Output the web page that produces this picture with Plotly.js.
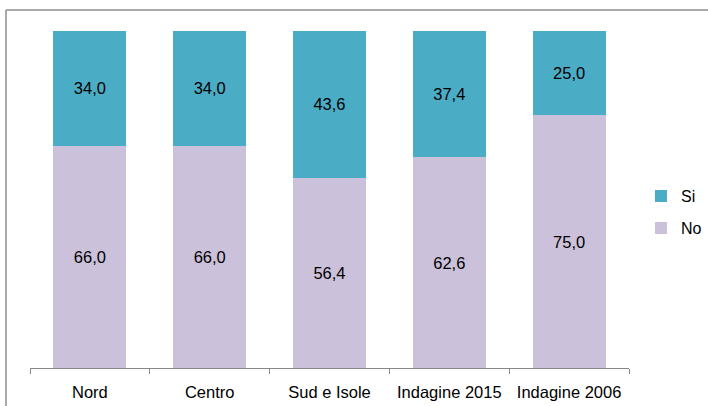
<!DOCTYPE html>
<html>
<head>
<meta charset="utf-8">
<script src="https://cdn.plot.ly/plotly-3.0.1.min.js"></script>
<style>body{margin:0;padding:0;background:#fff}#chart{width:708px;height:406px}</style>
</head>
<body>
<div id="chart"></div>
<script>
const categories = ["Nord", "Centro", "Sud e Isole", "Indagine 2015", "Indagine 2006"];
const noValues = [66.0, 66.0, 56.4, 62.6, 75.0];
const siValues = [34.0, 34.0, 43.6, 37.4, 25.0];
const seriesNames = ["No", "Si"];

const fmt = v => v.toFixed(1).replace('.', ',');
const FONT = "Liberation Sans, Arial, sans-serif";

const traces = [
  {
    type: 'bar', name: seriesNames[0], x: categories, y: noValues,
    marker: {color: '#CCC1DA'}, legend: 'legend2',
    text: noValues.map(fmt), textposition: 'inside', insidetextanchor: 'middle',
    textfont: {color: '#000', size: 16.5, family: FONT}, hoverinfo: 'none'
  },
  {
    type: 'bar', name: seriesNames[1], x: categories, y: siValues,
    marker: {color: '#4BACC6'}, legend: 'legend',
    text: siValues.map(fmt), textposition: 'inside', insidetextanchor: 'middle',
    textfont: {color: '#000', size: 16.5, family: FONT}, hoverinfo: 'none'
  }
];

const legendCommon = {xanchor: 'left', yanchor: 'middle', font: {size: 16, family: FONT},
                      itemwidth: 30, bgcolor: 'rgba(0,0,0,0)'};

const layout = {
  width: 708, height: 406,
  margin: {l: 30, r: 79, t: 31, b: 38, autoexpand: false},
  barmode: 'stack', bargap: 0.39,
  paper_bgcolor: '#fff', plot_bgcolor: '#fff',
  font: {family: FONT, size: 14, color: '#000'},
  showlegend: true,
  legend: Object.assign({x: 1.02, y: 0.510}, legendCommon),
  legend2: Object.assign({x: 1.02, y: 0.415}, legendCommon),
  xaxis: {
    showline: true, linecolor: '#888', linewidth: 1,
    ticks: 'outside', ticklen: 5, tickcolor: '#888', tickson: 'boundaries',
    ticklabelstandoff: 9,
    showgrid: false, zeroline: false, tickfont: {size: 16.5, family: FONT}
  },
  yaxis: {range: [0, 100], visible: false, showgrid: false, zeroline: false, fixedrange: true},
  shapes: [
    {type: 'line', xref: 'paper', yref: 'paper', x0: -24/599, x1: 3, y0: 358/337, y1: 358/337,
     line: {color: '#8c8c8c', width: 1.5}},
    {type: 'line', xref: 'paper', yref: 'paper', x0: -24/599, x1: -24/599, y0: 358/337, y1: -2,
     line: {color: '#8c8c8c', width: 1.5}}
  ]
};

Plotly.newPlot('chart', traces, layout, {displayModeBar: false, staticPlot: true});
</script>
</body>
</html>
